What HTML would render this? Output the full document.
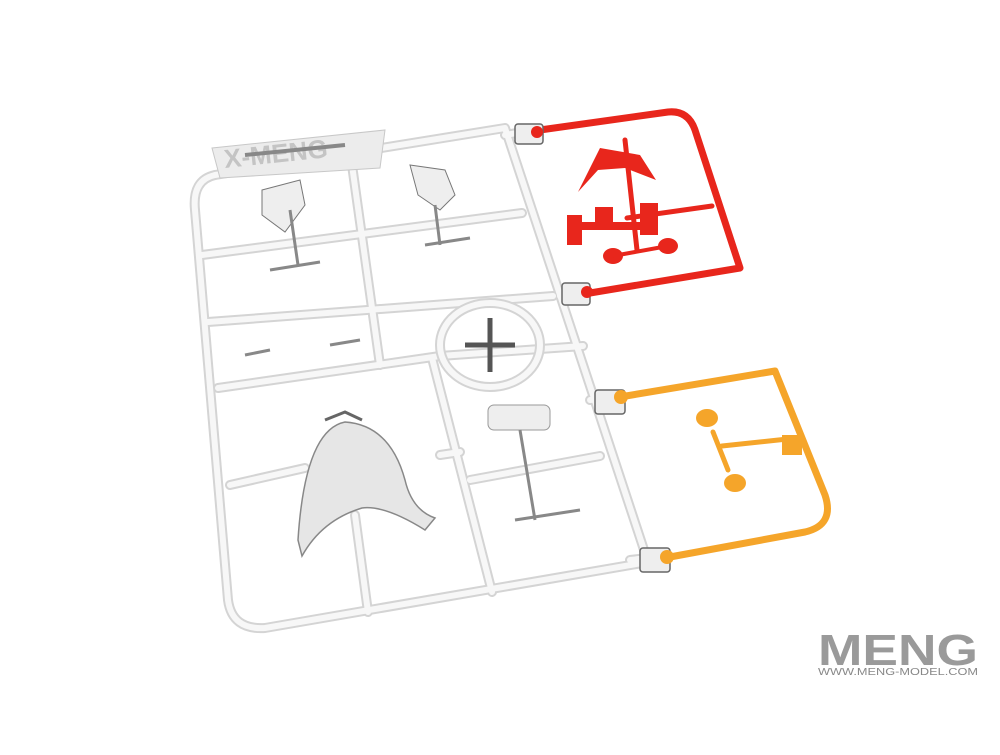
<!DOCTYPE html>
<html><head><style>
body{margin:0;background:#fff;width:1000px;height:750px;overflow:hidden}
</style></head><body>
<svg width="1000" height="750" viewBox="0 0 1000 750" xmlns="http://www.w3.org/2000/svg">
<defs>
<g id="clear" fill="none" stroke-linecap="round" stroke-linejoin="round">
<path d="M215,175 Q192,180 195,210 L228,600 Q232,630 265,628 L648,562"/>
<path d="M215,175 L505,128 L648,562"/>
<path d="M202,255 L522,213"/>
<path d="M208,322 L553,296"/>
<path d="M218,388 L440,356 L583,346"/>
<path d="M352,165 L380,365"/>
<path d="M432,358 L492,592"/>
<path d="M355,515 L368,612"/>
<path d="M230,485 L305,468"/>
<path d="M440,455 L460,452"/>
<path d="M470,480 L600,456"/>
<path d="M505,135 L535,130"/>
<path d="M560,296 L583,293"/>
<path d="M590,400 L610,398"/>
<path d="M630,560 L648,558"/>
</g>
</defs>
<use href="#clear" stroke="#d4d4d4" stroke-width="10"/>
<use href="#clear" stroke="#f7f7f7" stroke-width="6"/>
<polygon points="212,148 385,130 380,168 220,178" fill="#ececec" stroke="#c8c8c8"/>
<text x="225" y="168" font-family="Liberation Sans,sans-serif" font-weight="bold" font-size="26" fill="#c4c4c4" transform="rotate(-6 225 168)">X-MENG</text>
<ellipse cx="490" cy="345" rx="50" ry="42" fill="none" stroke="#d4d4d4" stroke-width="10"/>
<ellipse cx="490" cy="345" rx="50" ry="42" fill="none" stroke="#f7f7f7" stroke-width="6"/>
<path d="M490,318 L490,372 M465,345 L515,345" stroke="#555" stroke-width="5" fill="none"/>
<path d="M298,540 Q305,430 345,422 Q390,425 405,480 Q412,510 435,518 L425,530 Q385,505 362,508 Q322,520 302,556 Z" fill="#e6e6e6" stroke="#888" stroke-width="1.5"/>
<path d="M325,420 L345,412 L362,420" stroke="#666" stroke-width="3" fill="none"/>
<path d="M262,190 L300,180 L305,205 L285,232 L262,215 Z" fill="#eee" stroke="#777"/>
<path d="M410,165 L445,170 L455,195 L440,210 L418,195 Z" fill="#eee" stroke="#777"/>
<path d="M245,155 L345,145" stroke="#888" stroke-width="4"/>
<rect x="488" y="405" width="62" height="25" rx="6" fill="#eee" stroke="#999"/>
<path d="M270,270 L320,262 M425,245 L470,238 M245,355 L270,350 M330,345 L360,340 M515,520 L580,510 M290,210 L298,265 M435,205 L440,245 M520,430 L535,520" stroke="#888" stroke-width="3" fill="none"/>
<g fill="none" stroke="#e8261c" stroke-linecap="round" stroke-linejoin="round">
<path d="M540,130 L668,112 Q688,110 695,130 L740,268 L590,293" stroke-width="7"/>
<path d="M627,218 L712,206" stroke-width="5"/>
<path d="M625,140 L637,250" stroke-width="5"/>
</g>
<polygon points="578,192 600,148 640,155 656,180 625,168 598,170" fill="#e8261c"/>
<rect x="567" y="215" width="15" height="30" fill="#e8261c"/>
<rect x="580" y="222" width="60" height="8" fill="#e8261c"/>
<rect x="595" y="207" width="18" height="18" fill="#e8261c"/>
<rect x="640" y="203" width="18" height="32" fill="#e8261c"/>
<ellipse cx="613" cy="256" rx="10" ry="8" fill="#e8261c"/>
<ellipse cx="668" cy="246" rx="10" ry="8" fill="#e8261c"/>
<path d="M613,256 L668,246" stroke="#e8261c" stroke-width="4"/>
<g fill="none" stroke="#f5a52a" stroke-linecap="round" stroke-linejoin="round">
<path d="M620,397 L775,371 L825,495 Q835,525 805,532 L670,557" stroke-width="7"/>
<path d="M722,446 L797,438" stroke-width="5"/>
<path d="M713,432 L728,470" stroke-width="5"/>
</g>
<rect x="782" y="435" width="20" height="20" fill="#f5a52a"/>
<ellipse cx="707" cy="418" rx="11" ry="9" fill="#f5a52a"/>
<ellipse cx="735" cy="483" rx="11" ry="9" fill="#f5a52a"/>
<g fill="#eee" stroke="#666" stroke-width="1.5">
<rect x="515" y="124" width="28" height="20" rx="3"/>
<rect x="562" y="283" width="28" height="22" rx="3"/>
<rect x="595" y="390" width="30" height="24" rx="3"/>
<rect x="640" y="548" width="30" height="24" rx="3"/>
</g>
<circle cx="537" cy="132" r="6" fill="#e8261c"/>
<circle cx="587" cy="292" r="6" fill="#e8261c"/>
<circle cx="621" cy="397" r="7" fill="#f5a52a"/>
<circle cx="667" cy="557" r="7" fill="#f5a52a"/>
<text x="818" y="665" font-family="Liberation Sans,sans-serif" font-weight="bold" font-size="44" fill="#9a9a9a" textLength="160" lengthAdjust="spacingAndGlyphs">MENG</text>
<text x="818" y="675" font-family="Liberation Sans,sans-serif" font-size="10" fill="#888" textLength="160" lengthAdjust="spacingAndGlyphs">WWW.MENG-MODEL.COM</text>
</svg>
</body></html>
